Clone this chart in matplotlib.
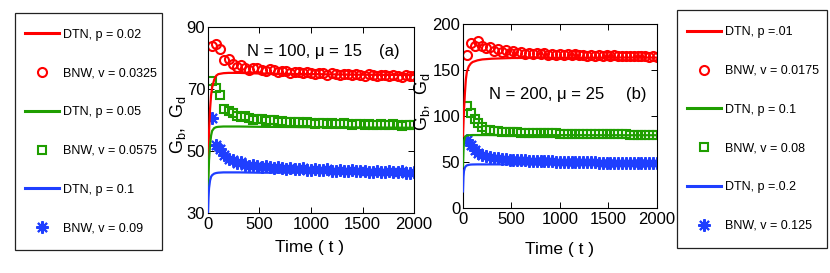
import matplotlib
matplotlib.use("Agg")
import matplotlib.pyplot as plt
from matplotlib.patches import Rectangle

plt.rcParams['font.family'] = ['Liberation Sans', 'DejaVu Sans']

# ---- data ----
t_dtn = [0, 5, 10, 20, 30, 40, 60, 80, 100, 150, 200, 300, 500, 1000, 1500, 2000]
t_bnw = list(range(40, 2001, 40))

# panel (a): N = 100, mu = 15
a_dtn_red = [42, 50, 56, 63.5, 68, 70.5, 73, 74.3, 74.8, 75.1, 75.2, 75.2, 75.0, 74.8, 74.6, 74.5]
a_dtn_green = [37, 42, 47, 52, 55, 56.5, 57.4, 57.7, 57.8, 57.9, 57.9, 57.9, 57.8, 57.7, 57.6, 57.5]
a_dtn_blue = [30, 35, 38, 40.5, 41.7, 42.2, 42.7, 42.9, 43.0, 43.1, 43.1, 43.1, 43.0, 43.0, 42.9, 42.9]

a_bnw_red = [84.0, 84.6, 83.0, 79.2, 79.6, 78.0, 77.0, 77.6, 76.9, 76.2,
             76.7, 76.9, 76.1, 75.7, 76.3, 76.0, 75.4, 75.9, 75.7, 75.2,
             75.6, 75.4, 75.0, 75.4, 75.2, 74.8, 75.2, 75.0, 74.6, 75.0,
             74.8, 74.5, 74.9, 74.7, 74.4, 74.8, 74.6, 74.3, 74.7, 74.5,
             74.2, 74.6, 74.4, 74.1, 74.5, 74.3, 74.0, 74.4, 74.2, 74.1]
a_bnw_green = [72.6, 70.4, 68.2, 63.6, 63.0, 62.4, 61.4, 61.0, 61.3, 60.5,
               60.1, 60.4, 60.2, 59.8, 60.0, 59.9, 59.5, 59.7, 59.5, 59.2,
               59.4, 59.3, 59.0, 59.2, 59.1, 58.8, 59.1, 58.9, 58.7, 59.0,
               58.8, 58.6, 58.9, 58.7, 58.5, 58.8, 58.6, 58.4, 58.7, 58.5,
               58.4, 58.7, 58.5, 58.3, 58.6, 58.4, 58.2, 58.5, 58.3, 58.3]
a_bnw_blue = [60.5, 51.8, 50.6, 48.6, 47.4, 47.0, 46.0, 46.3, 45.5, 45.2,
              45.5, 45.0, 44.8, 45.1, 44.7, 44.5, 44.8, 44.4, 44.3, 44.6,
              44.2, 44.1, 44.4, 44.0, 43.9, 44.2, 43.8, 43.8, 44.1, 43.7,
              43.6, 43.9, 43.5, 43.5, 43.8, 43.4, 43.4, 43.7, 43.3, 43.3,
              43.6, 43.2, 43.2, 43.5, 43.1, 43.1, 43.4, 43.0, 43.0, 43.2]

# panel (b): N = 200, mu = 25
b_dtn_red = [78, 92, 105, 125, 140, 148, 154, 157, 158.7, 160.5, 161.5, 162.3, 163.0, 163.3, 163.5, 163.5]
b_dtn_green = [45, 62, 72, 77, 78.3, 78.8, 79.1, 79.2, 79.3, 79.3, 79.3, 79.3, 79.2, 79.2, 79.1, 79.1]
b_dtn_blue = [18, 34, 40, 44, 45.5, 46.3, 46.9, 47.2, 47.3, 47.4, 47.4, 47.4, 47.4, 47.3, 47.3, 47.3]

b_bnw_red = [166, 179, 176, 182, 176, 173.5, 175.5, 171, 172.5, 170,
             171.5, 169, 170.5, 168.5, 169.5, 167.8, 168.8, 167.5, 168.3, 167,
             168, 166.8, 167.6, 166.5, 167.3, 166.3, 167.1, 166.1, 166.9, 165.9,
             166.7, 165.7, 166.5, 165.6, 166.3, 165.4, 166.1, 165.3, 165.9, 165.1,
             165.7, 165.0, 165.5, 164.8, 165.3, 164.7, 165.1, 164.5, 164.9, 164.3]
b_bnw_green = [111, 103, 97, 92, 87.5, 85, 84.5, 84, 83.5, 83,
               82.8, 82.6, 82.4, 82.2, 82.0, 81.9, 81.8, 81.6, 81.5, 81.4,
               81.3, 81.2, 81.1, 81.0, 80.9, 80.8, 80.8, 80.7, 80.6, 80.5,
               80.5, 80.4, 80.3, 80.3, 80.2, 80.2, 80.1, 80.1, 80.0, 80.0,
               79.9, 79.9, 79.8, 79.8, 79.7, 79.7, 79.7, 79.6, 79.6, 79.5]
b_bnw_blue = [74, 68, 63, 60, 58, 56.5, 55.5, 54.5, 54, 53.5,
              53, 52.7, 52.4, 52.1, 51.9, 51.7, 51.5, 51.3, 51.1, 51.0,
              50.8, 50.7, 50.6, 50.4, 50.3, 50.2, 50.1, 50.0, 49.9, 49.8,
              49.7, 49.6, 49.6, 49.5, 49.4, 49.4, 49.3, 49.2, 49.2, 49.1,
              49.0, 49.0, 48.9, 48.9, 48.8, 48.8, 48.7, 48.7, 48.6, 48.6]

a_labels = ["DTN, p = 0.02", "BNW, v = 0.0325", "DTN, p = 0.05",
            "BNW, v = 0.0575", "DTN, p = 0.1", "BNW, v = 0.09"]
b_labels = ["DTN, p =.01", "BNW, v = 0.0175", "DTN, p = 0.1",
            "BNW, v = 0.08", "DTN, p =.0.2", "BNW, v = 0.125"]

RED, GREEN, BLUE = '#ff0000', '#1f9e00', '#1f3fff'
STAR = (8, 2, 0)
FS = 12


def draw_panel(ax, dtn, bnw, labels):
    handles = []
    markers = [('o', 6.5), ('s', 5.5), (STAR, 9)]
    for i, col in enumerate([RED, GREEN, BLUE]):
        ln, = ax.plot(t_dtn, dtn[i], color=col, lw=1.6, label=labels[2 * i], zorder=3)
        mk, = ax.plot(t_bnw, bnw[i], ls='none', marker=markers[i][0], ms=markers[i][1],
                      mfc='none', mec=col, mew=1.5, label=labels[2 * i + 1], zorder=2)
        handles += [ln, mk]
    ax.set_xlim(0, 2000)
    ax.set_xticks([0, 500, 1000, 1500, 2000])
    ax.tick_params(direction='in', top=True, right=True, length=4, width=0.7,
                   labelsize=FS, pad=3)
    ax.tick_params(axis='y', pad=2)
    for s in ax.spines.values():
        s.set_linewidth(0.8)
    ax.set_xlabel('Time ( t )', fontsize=12.5, va='center')
    ax.set_ylabel(r'$\mathregular{G_b,\ G_d}$', fontsize=13, va='center')
    return handles


fig = plt.figure(figsize=(8.3, 2.73), dpi=100)
ax1 = fig.add_axes([0.2506, 0.2198, 0.2482, 0.6813])
ax2 = fig.add_axes([0.5578, 0.2381, 0.2337, 0.674])

h1 = draw_panel(ax1, [a_dtn_red, a_dtn_green, a_dtn_blue],
                [a_bnw_red, a_bnw_green, a_bnw_blue], a_labels)
ax1.set_ylim(30, 90)
ax1.set_yticks([30, 50, 70, 90])
ax1.text(940, 82, 'N = 100, μ = 15', fontsize=FS, ha='center', va='center')
ax1.text(1757, 82, '(a)', fontsize=FS, ha='center', va='center')
ax1.yaxis.set_label_coords(-0.148, 0.473)
ax1.xaxis.set_label_coords(0.495, -0.183)

h2 = draw_panel(ax2, [b_dtn_red, b_dtn_green, b_dtn_blue],
                [b_bnw_red, b_bnw_green, b_bnw_blue], b_labels)
ax2.set_ylim(0, 200)
ax2.set_yticks([0, 50, 100, 150, 200])
ax2.text(863, 123, 'N = 200, μ = 25', fontsize=FS, ha='center', va='center')
ax2.text(1790, 123, '(b)', fontsize=FS, ha='center', va='center')
ax2.yaxis.set_label_coords(-0.212, 0.576)
ax2.xaxis.set_label_coords(0.5, -0.223)

# legends: frame drawn separately so padding can differ per side
for handles, (x0, y0, x1, y1) in [(h1, (15, 13, 162, 250)), (h2, (677, 10, 827, 248))]:
    fx0, fx1 = x0 / 830, x1 / 830
    fy0, fy1 = 1 - y1 / 273, 1 - y0 / 273
    fig.patches.append(Rectangle((fx0, fy0), fx1 - fx0, fy1 - fy0, transform=fig.transFigure,
                                 fill=False, ec='#222222', lw=0.9))
    leg = fig.legend(handles=handles, loc='center left',
                     bbox_to_anchor=(fx0 + 4 / 830, (fy0 + fy1) / 2),
                     frameon=False, fontsize=9, numpoints=1, handlelength=2.7,
                     handletextpad=0.3, labelspacing=2.14, borderpad=0)
    for lh in leg.legend_handles:
        if lh.get_linestyle() != 'None':
            lh.set_linewidth(2.2)

fig.savefig('out.png', dpi=100)
